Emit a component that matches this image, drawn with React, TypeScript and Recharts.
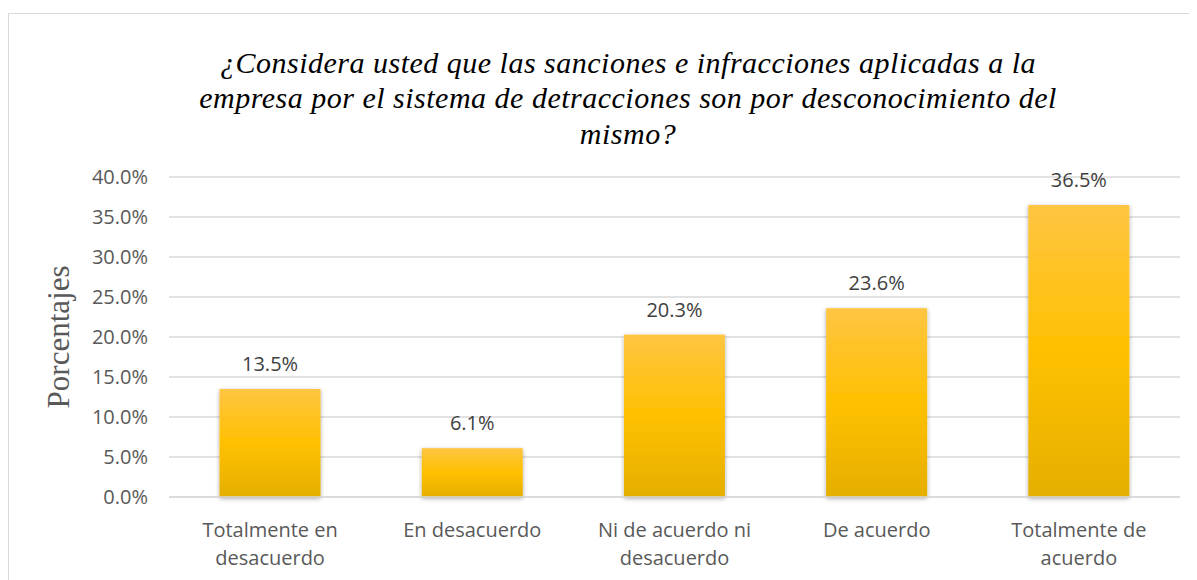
import React from 'react';
import { BarChart, Bar, XAxis, YAxis, CartesianGrid, LabelList } from 'recharts';

const categories = ['Totalmente en|desacuerdo', 'En desacuerdo', 'Ni de acuerdo ni|desacuerdo', 'De acuerdo', 'Totalmente de|acuerdo'];
const percentages = [13.5, 6.1, 20.3, 23.6, 36.5];
const yTicks = [0, 5, 10, 15, 20, 25, 30, 35, 40];
const titleLines = [
  '¿Considera usted que las sanciones e infracciones aplicadas a la',
  'empresa por el sistema de detracciones son por desconocimiento del',
  'mismo?',
];
const yAxisTitle = 'Porcentajes';

const data = categories.map((c, i) => ({ name: c, value: percentages[i] }));

const TICK_FONT = '"Open Sans", "Noto Sans", sans-serif';
const SERIF = '"Liberation Serif", "DejaVu Serif", serif';

const XTick = (props: any) => {
  const { x, y, payload } = props;
  const lines = String(payload.value).split('|');
  return (
    <g>
      {lines.map((l: string, i: number) => (
        <text key={i} x={x} y={y + 32 + i * 28} textAnchor="middle" fill="#595959" fontSize={20} fontFamily={TICK_FONT}>
          {l}
        </text>
      ))}
    </g>
  );
};

const BarShape = (props: any) => {
  const { x, y, width, height } = props;
  return <rect x={x} y={y} width={width} height={height} fill="url(#barGrad)" filter="url(#barShadow)" />;
};

export default function App() {
  return (
    <div style={{ position: 'relative', width: 1189, height: 572, overflow: 'hidden', background: '#fff' }}>
      <div style={{ position: 'absolute', left: 0, top: 5, width: 1400, height: 800, border: '1px solid #d9d9d9', boxSizing: 'border-box' }} />
      <div style={{ position: 'absolute', left: 0, top: 0 }}>
        <BarChart width={1189} height={572} data={data} margin={{ top: 169, right: 17, bottom: 0, left: 0 }} barCategoryGap="25%">
          <defs>
            <linearGradient id="barGrad" x1="0" y1="0" x2="0" y2="1">
              <stop offset="0%" stopColor="#FFC542" />
              <stop offset="50%" stopColor="#FFC000" />
              <stop offset="100%" stopColor="#E5AF00" />
            </linearGradient>
            <filter id="barShadow" x="-20%" y="-20%" width="140%" height="140%">
              <feDropShadow dx="0" dy="1.5" stdDeviation="2" floodColor="#000" floodOpacity="0.35" />
            </filter>
          </defs>
          <CartesianGrid vertical={false} stroke="#d9d9d9" strokeWidth={1.3} />
          <XAxis dataKey="name" height={83} axisLine={{ stroke: '#d9d9d9', strokeWidth: 1.3 }} tickLine={false} tick={<XTick />} interval={0} />
          <YAxis
            width={161}
            domain={[0, 40]}
            ticks={yTicks}
            axisLine={false}
            tickLine={false}
            tickMargin={15}
            tickFormatter={(v: number) => v.toFixed(1) + '%'}
            tick={{ fill: '#595959', fontSize: 20, fontFamily: TICK_FONT }}
            label={{
              content: (p: any) => {
                const vb = p.viewBox;
                const cx = 50;
                const cy = vb.y + vb.height / 2;
                return (
                  <text x={cx} y={cy} transform={`rotate(-90 ${cx} ${cy})`} textAnchor="middle" dominantBaseline="central" fill="#595959" fontSize={31} fontFamily={SERIF}>
                    {yAxisTitle}
                  </text>
                );
              },
            }}
          />
          <Bar dataKey="value" isAnimationActive={false} shape={<BarShape />}>
            <LabelList dataKey="value" position="top" offset={18} formatter={(v: any) => Number(v).toFixed(1) + '%'} fill="#404040" fontSize={20} fontFamily={TICK_FONT} />
          </Bar>
        </BarChart>
      </div>
      <svg width={1189} height={160} style={{ position: 'absolute', left: 0, top: 0 }}>
        {titleLines.map((l, i) => (
          <text key={i} x={620} y={54 + i * 35.5} textAnchor="middle" dominantBaseline="central" fontFamily={SERIF} fontStyle="italic" fontSize={30} letterSpacing={0.5} fill="#000">
            {l}
          </text>
        ))}
      </svg>
    </div>
  );
}
